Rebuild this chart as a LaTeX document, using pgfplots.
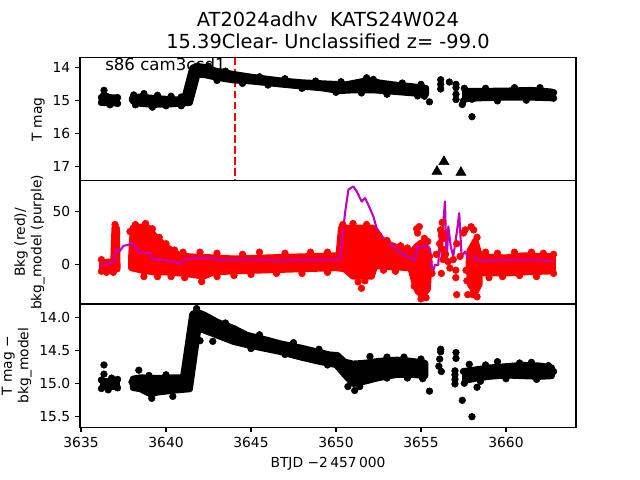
\documentclass[border=0pt]{standalone}
\usepackage{fontspec}
\setmainfont{DejaVu Sans}
\usepackage{pgfplots}
\pgfplotsset{compat=1.18}

\definecolor{mplmag}{rgb}{0.75,0,0.75}

\pgfplotsset{
  panel/.style={
    scale only axis, width=357.12bp, height=88.70bp,
    xmin=3634.94, xmax=3664.12,
    axis line style={line width=0.8bp},
    tick style={line width=0.8bp, black},
    major tick length=3.5bp,
    tick align=outside,
    xtick pos=bottom, ytick pos=left,
    /pgf/number format/assume math mode=true,
    tick label style={font=\fontsize{10}{12}\selectfont},
    label style={font=\fontsize{10}{12}\selectfont},
    anchor=south west,
  },
  dots/.style={only marks, mark=*, mark size=2.4bp, forget plot},
  band/.style={draw, line width=4.4bp, line join=round, forget plot},
}

\begin{document}
\begin{tikzpicture}
\useasboundingbox (0,0) rectangle (460.8bp,345.6bp);

% titles and sector text (drawn first, data goes over them)
\node[anchor=base, font=\fontsize{14}{16.8}\selectfont] at (236.16bp,326.4bp) {AT2024adhv\ \ KATS24W024};
\node[anchor=base, font=\fontsize{14}{16.8}\selectfont] at (236.16bp,310.8bp) {15.39Clear- Unclassified z= -99.0};
\node[anchor=base west, inner sep=0pt, font=\fontsize{12}{14.4}\selectfont] at (75.6bp,294.8bp) {s86 cam3ccd1};

% ---------------- panel 1: T mag ----------------
\begin{axis}[panel, at={(57.6bp,215.42bp)},
    y dir=reverse, ymin=13.69, ymax=17.42, ytick={14,15,16,17},
    xtick=\empty,
    ylabel={T mag},
    ylabel style={at={(axis description cs:-0.0706,0.5)}, anchor=south, inner sep=0pt},
  ]
  \addplot[red, line width=1.5bp, dash pattern=on 5.55bp off 2.4bp, forget plot]
    coordinates {(3644.06,13.69) (3644.06,17.42)};

  \addplot[band, fill=black] coordinates {
    (3636.3,14.9) (3636.7,14.89) (3637.1,14.9) (3637.1,15.07) (3636.7,15.08) (3636.3,15.06)} --cycle;
  \addplot[band, fill=black] coordinates {
    (3638.0,14.92) (3638.4,14.87) (3639.0,14.9) (3640.0,14.94) (3641.05,14.97)
    (3641.55,14.0) (3641.8,13.94) (3642.2,13.97) (3643.0,14.1) (3644.0,14.19)
    (3645.0,14.27) (3646.7,14.38) (3648.0,14.44) (3649.6,14.48) (3650.6,14.5)
    (3651.4,14.42) (3651.9,14.37) (3652.6,14.45) (3653.5,14.51) (3654.5,14.56) (3655.3,14.61)
    (3655.3,14.8) (3654.5,14.77) (3653.3,14.72) (3652.2,14.68) (3651.0,14.68)
    (3650.2,14.7) (3649.2,14.62) (3647.5,14.54) (3646.7,14.5) (3645.0,14.41)
    (3644.0,14.38) (3643.0,14.3) (3642.3,14.22) (3641.85,14.2) (3641.4,15.06)
    (3640.4,15.1) (3639.2,15.12) (3638.4,15.08) (3638.0,15.0)} --cycle;
  \addplot[band, fill=black] coordinates {
    (3657.6,14.7) (3658.5,14.7) (3660.0,14.69) (3661.5,14.67) (3662.7,14.72)
    (3662.7,14.92) (3661.5,14.9) (3660.0,14.9) (3658.5,14.92) (3657.6,14.94)} --cycle;

  \addplot[dots, black] coordinates {
    (3636.35,14.68) (3636.35,14.80) (3636.2,14.9) (3636.2,15.05) (3637.15,14.9)
    (3637.15,15.08) (3636.7,15.12) (3636.5,14.86)
    (3638.1,14.82) (3638.7,14.78) (3639.5,14.83) (3640.3,14.86) (3640.9,14.88)
    (3642.5,13.95) (3643.5,14.1) (3645.5,14.27) (3647.0,14.33) (3648.8,14.4)
    (3650.3,14.42) (3651.8,14.3) (3652.2,14.35) (3653.9,14.46) (3655.0,14.5)
    (3638.2,15.12) (3639.2,15.19) (3640.0,15.15) (3640.9,15.15) (3643.0,14.38)
    (3644.5,14.47) (3646.0,14.52) (3648.0,14.62) (3650.0,14.74) (3651.5,14.76)
    (3653.0,14.8) (3654.8,14.85) (3655.2,14.86)
    (3655.5,15.03) (3656.16,14.36) (3656.16,14.5) (3656.16,14.64) (3656.67,14.43)
    (3657.06,14.5) (3657.06,14.6) (3657.06,14.8) (3657.06,14.96) (3657.43,15.11)
    (3658.0,15.48)
    (3657.55,14.62) (3658.0,14.95) (3658.8,14.62) (3659.5,15.0) (3660.5,14.6)
    (3661.2,14.98) (3662.0,14.6) (3662.8,14.75) (3662.8,14.92) (3657.5,15.0)};
  \addplot[only marks, mark=triangle*, mark size=4.2bp, black, forget plot] coordinates {
    (3655.94,17.14) (3656.35,16.84) (3657.35,17.17)};
\end{axis}

% ---------------- panel 2: background ----------------
\begin{axis}[panel, at={(57.6bp,126.72bp)},
    ymin=-36.8, ymax=79.2, ytick={0,50},
    xtick=\empty,
    ylabel={Bkg (red)/\\bkg\_model (purple)},
    ylabel style={at={(axis description cs:-0.0706,0.5)}, anchor=south, inner sep=0pt, align=center},
  ]
  \addplot[band, red, fill=red] coordinates {
    (3636.25,2) (3636.6,3) (3636.9,3) (3636.97,35) (3637.1,35) (3637.15,-4) (3636.6,-5) (3636.25,-4)} --cycle;
  \addplot[band, red, fill=red] coordinates {
    (3637.95,7) (3638.05,35) (3638.5,36) (3639.0,35) (3639.3,28) (3639.8,20) (3640.4,13)
    (3640.8,9) (3641.4,8) (3642.8,7) (3644.0,6) (3646.0,7) (3648.0,8) (3650.15,9)
    (3650.3,35) (3652.2,35) (3652.7,24) (3653.2,19) (3654.4,12)
    (3654.4,-3) (3653.0,-2) (3652.3,-1) (3652.1,-11) (3651.0,-11) (3650.5,-4) (3650.0,-3)
    (3648.0,-4) (3646.0,-5) (3644.0,-6) (3642.8,-7) (3642.2,-11) (3641.4,-9) (3640.8,-8)
    (3640.0,-7) (3639.3,-7) (3638.5,-5) (3637.95,-3)} --cycle;
  \addplot[band, red, fill=red] coordinates {
    (3654.4,11) (3654.7,17) (3655.0,21) (3655.4,15) (3655.5,3) (3655.4,-23) (3655.1,-29)
    (3654.8,-25) (3654.6,-16) (3654.4,-4)} --cycle;
  \addplot[band, red, fill=red] coordinates {
    (3657.85,13) (3658.2,23) (3658.45,9) (3658.45,-18) (3658.2,-26) (3657.9,-19) (3657.8,0)} --cycle;
  \addplot[band, red, fill=red] coordinates {
    (3658.4,8) (3660.0,7) (3661.0,9) (3662.75,8) (3662.75,-6) (3661.0,-7) (3660.0,-8) (3658.4,-8)} --cycle;

  \addplot[dots, red] coordinates {
    (3636.2,5) (3636.2,-6) (3636.5,-7) (3636.9,-7) (3637.0,38) (3637.1,30)
    (3637.88,31.4) (3638.7,-11) (3638.7,-6.3) (3638.2,38) (3638.8,39) (3639.2,34)
    (3639.6,26) (3640.0,20) (3640.5,14) (3641.0,12) (3642.0,12) (3643.0,11) (3644.5,10)
    (3645.5,12) (3647.0,11) (3648.5,12) (3649.5,12) (3639.5,-11) (3640.3,-11) (3641.1,-12)
    (3642.1,-15.7) (3643.0,-11) (3644.0,-10) (3645.0,-9) (3646.5,-8) (3648.0,-8) (3649.5,-7)
    (3650.4,38) (3651.0,39) (3651.8,38) (3651.5,-22) (3651.3,-16) (3651.7,-15) (3652.5,28)
    (3653.0,23) (3653.8,18) (3654.2,16) (3653.5,-6) (3652.8,-5)
    (3654.8,30) (3654.9,36) (3654.75,34) (3655.2,25) (3655.4,22) (3655.3,-31) (3655.0,-32)
    (3654.6,-20) (3655.5,8)
    (3655.65,-8) (3655.9,10) (3656.1,20) (3656.15,33) (3656.2,28) (3656.25,15) (3656.2,-8)
    (3656.3,5) (3656.35,25) (3656.25,40) (3656.3,30) (3656.45,10) (3656.6,3) (3656.7,-3)
    (3656.9,5) (3657.05,-5) (3657.05,-12) (3657.1,-28) (3657.1,20) (3657.3,8) (3657.5,30)
    (3657.6,33) (3657.65,-5) (3657.7,-15) (3657.75,-28) (3657.9,10) (3658.1,-10) (3658.1,-25)
    (3657.95,36) (3658.1,33) (3658.3,26) (3658.3,-30) (3658.05,-28)
    (3658.8,12) (3659.5,11) (3660.5,12) (3661.5,12) (3662.2,11) (3662.8,10) (3662.8,-8)
    (3661.8,-11) (3660.8,-10) (3659.8,-11) (3659.0,-12)};

  \addplot[mplmag, line width=1.5bp, line join=round, forget plot] coordinates {
    (3636.16,0) (3636.9,2.2) (3637.1,14.2) (3637.29,13.2) (3637.49,17.9) (3637.78,18.9)
    (3637.98,20.4) (3638.18,17.9) (3638.37,12.6) (3638.57,11.9) (3639.06,11) (3639.25,5.3)
    (3639.84,4.7) (3640.43,3.1) (3640.82,0.9) (3641.02,4.7) (3641.41,6.3) (3642.78,6.3)
    (3643.18,4.7) (3644.75,5.3) (3646.7,4.1) (3648.67,4.7) (3649.65,4.7) (3650.24,4.7)
    (3650.53,48.8) (3650.73,70.8) (3651.02,73.9) (3651.22,69.2) (3651.51,59.7) (3651.71,62.9)
    (3651.9,56.6) (3652.2,45.6) (3652.39,34.6) (3652.78,25.2) (3653.37,17.3) (3653.96,9.4)
    (3654.65,4.7) (3654.78,17.3) (3655.04,16.4) (3655.33,18.9) (3655.53,14.2) (3655.69,-7.8)
    (3655.82,0) (3656.02,0) (3656.12,33) (3656.22,7.9) (3656.31,39.3) (3656.41,59.7)
    (3656.51,1.6) (3656.61,36.2) (3656.75,17.3) (3656.9,7.9) (3657.1,29.9) (3657.25,48.8)
    (3657.39,7.9) (3657.59,12.6) (3657.78,6.3) (3658.08,9.4) (3658.28,4.7) (3658.86,3.8)
    (3660.43,4.7) (3661.8,4.7) (3662.78,3.1)};
\end{axis}

% ---------------- panel 3: T mag - bkg_model ----------------
\begin{axis}[panel, at={(57.6bp,38.016bp)},
    y dir=reverse, ymin=13.79, ymax=15.67, ytick={14,14.5,15,15.5},
    yticklabel style={/pgf/number format/.cd, fixed, precision=1, fixed zerofill},
    xtick={3635,3640,3645,3650,3655,3660},
    xticklabel style={/pgf/number format/1000 sep={}},
    xlabel={BTJD −2\,457\,000},
    ylabel={T mag −\\bkg\_model},
    ylabel style={at={(axis description cs:-0.0968,0.5)}, anchor=south, inner sep=0pt, align=center},
  ]
  \addplot[band, fill=black] coordinates {
    (3636.3,14.96) (3636.7,14.96) (3637.1,14.96) (3637.1,15.06) (3636.7,15.06) (3636.3,15.06)} --cycle;
  \addplot[band, fill=black] coordinates {
    (3638.05,14.93) (3638.5,14.91) (3639.5,14.92) (3640.5,14.91) (3641.0,14.91) (3641.55,13.94)
    (3641.85,13.91) (3642.3,13.96) (3643.0,14.06) (3644.0,14.16) (3644.75,14.26) (3646.0,14.34)
    (3646.7,14.39) (3648.0,14.46) (3649.6,14.56) (3650.1,14.57) (3650.5,14.67) (3651.0,14.7)
    (3651.6,14.69) (3652.5,14.66) (3653.6,14.64) (3654.5,14.66) (3655.25,14.69)
    (3655.25,14.89) (3654.5,14.87) (3653.6,14.87) (3652.5,14.92) (3651.6,14.98) (3651.0,15.01)
    (3650.5,14.87) (3650.0,14.72) (3649.0,14.67) (3648.0,14.61) (3646.7,14.52) (3645.0,14.43)
    (3644.0,14.37) (3643.0,14.27) (3642.2,14.19) (3641.9,14.17) (3641.4,15.09) (3640.5,15.11)
    (3639.5,15.14) (3639.1,15.17) (3638.5,15.09) (3638.05,15.07)} --cycle;
  \addplot[band, fill=black] coordinates {
    (3657.6,14.81) (3658.2,14.79) (3659.0,14.76) (3660.0,14.74) (3661.0,14.72) (3662.0,14.73)
    (3662.7,14.76) (3662.7,14.89) (3662.0,14.9) (3661.0,14.89) (3660.0,14.88) (3659.0,14.9)
    (3658.2,14.93) (3657.6,14.96)} --cycle;

  \addplot[dots, black] coordinates {
    (3636.35,14.72) (3636.35,14.86) (3636.2,14.95) (3636.2,15.08) (3637.15,14.94)
    (3637.15,15.07) (3636.6,15.1) (3636.8,14.92)
    (3638.0,14.98) (3638.4,14.8) (3639.16,15.23) (3640.4,15.2) (3642.0,14.35) (3642.75,14.36)
    (3641.8,13.86) (3639.0,14.88) (3640.0,14.87) (3643.5,14.08) (3645.5,14.26) (3647.5,14.38)
    (3649.0,14.48) (3651.1,15.11) (3652.0,14.59) (3650.7,15.05) (3651.4,15.05) (3653.0,14.6)
    (3654.0,14.6) (3655.0,14.63) (3653.0,14.92) (3654.2,14.92) (3655.1,14.93) (3647.0,14.56)
    (3645.0,14.47) (3649.5,14.72)
    (3655.5,15.12) (3656.16,14.48) (3656.16,14.52) (3656.1,14.63) (3656.05,14.74)
    (3656.2,14.82) (3657.06,14.53) (3657.06,14.62) (3657.0,14.81) (3657.0,14.87)
    (3657.0,14.94) (3657.0,15.01) (3657.43,15.26) (3658.0,15.51) (3657.84,14.71) (3658.3,15.06)
    (3659.5,14.67) (3660.8,14.69) (3661.5,14.68) (3662.5,14.73) (3662.8,14.82) (3658.8,14.72)
    (3658.5,14.97) (3660.0,14.93) (3661.8,14.94) (3657.55,15.0) (3657.5,14.82)};
\end{axis}
\end{tikzpicture}
\end{document}
